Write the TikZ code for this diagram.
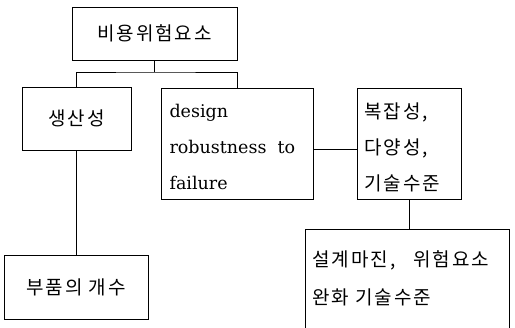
\documentclass[tikz,border=0pt]{standalone}
\usepackage{fontspec}
\setmainfont{DejaVu Serif}
\newfontfamily\kr[LetterSpace=10]{Noto Sans CJK KR}
\begin{document}
\begin{tikzpicture}[x=1pt,y=-1pt,
  box/.style={draw,line width=0.9pt,inner sep=0pt},
  kt/.style={font=\kr\fontsize{19}{36}\selectfont},
  lt/.style={font=\fontsize{17.5}{36}\selectfont},
  con/.style={line width=0.9pt}]
\useasboundingbox (0,0) rectangle (515,328);
\clip (0,0) rectangle (515,328);
\node[box,kt,minimum width=165pt,minimum height=53pt] (top) at (154.5,33.5) {비용위험요소};
\node[box,kt,minimum width=109pt,minimum height=63pt] (p) at (76.5,118.5) {생산성};
\node[box,kt,minimum width=144pt,minimum height=64pt] (b) at (76,287) {부품의 개수};
\node[box,minimum width=152pt,minimum height=111pt] (d) at (237,143.5) {};
\node[lt,anchor=west,align=left] (dt) at (166,147) {design\\robustness~ to\\failure};
\node[box,minimum width=104pt,minimum height=111pt] (c) at (409,143.5) {};
\node[kt,anchor=west,align=left] (ct) at (361,147) {복잡성,\\다양성,\\기술수준};
\node[box,minimum width=204pt,minimum height=120pt] (m) at (407,289) {};
\node[kt,anchor=north west,align=left,font=\kr\fontsize{19}{38}\selectfont] (mt) at (309,247) {설계마진,\hspace{18pt}위험요소\\완화 기술수준};
\coordinate (j) at (154.5,72);
\coordinate (k) at (0,149);
\draw[con] (top.south) -- (j);
\draw[con] (p.north) |- (j) -| (d.north);
\draw[con] (p.south) -- (p.south |- b.north);
\draw[con] (d.east |- k) -- (c.west |- k);
\draw[con] (c.south) -- (c.south |- m.north);
\end{tikzpicture}
\end{document}
